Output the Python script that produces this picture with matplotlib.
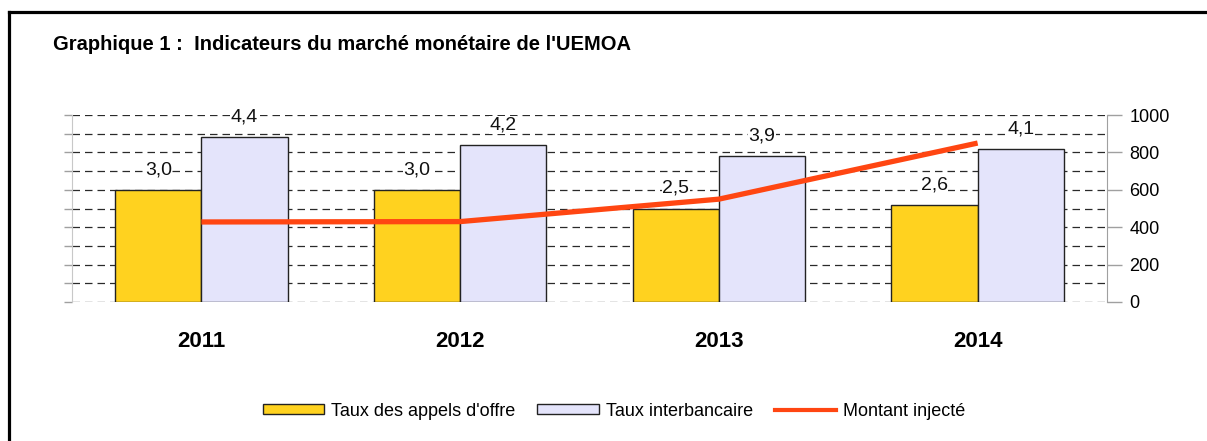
import matplotlib
matplotlib.use("Agg")
import matplotlib.pyplot as plt
import numpy as np
from matplotlib.lines import Line2D
from matplotlib.patches import Patch

plt.rcParams['font.family'] = ['Liberation Sans', 'DejaVu Sans']

years = ["2011", "2012", "2013", "2014"]
taux_appels = [3.0, 3.0, 2.5, 2.6]
taux_interbancaire = [4.4, 4.2, 3.9, 4.1]
montant_injecte = [428, 430, 550, 850]
right_ticks = [0, 200, 400, 600, 800, 1000]

title = "Graphique 1 :  Indicateurs du marché monétaire de l'UEMOA"
legend_labels = ["Taux des appels d'offre", "Taux interbancaire", "Montant injecté"]

W, H = 1207, 441
fig = plt.figure(figsize=(W / 100, H / 100), dpi=100)
fig.patch.set_facecolor("white")

L, R, B, T = 72, 1107, 302, 115
ax = fig.add_axes([L / W, 1 - B / H, (R - L) / W, (B - T) / H])

x = np.arange(len(years)) + 0.5
bw = 0.333
yellow = "#FFD21F"
lav = "#E4E4FB"
red = "#FF4612"
grey = "#A0A0A0"

b1 = ax.bar(x - bw / 2, taux_appels, bw, color=yellow, edgecolor="#222222", linewidth=1.0, zorder=2)
b2 = ax.bar(x + bw / 2, taux_interbancaire, bw, color=lav, edgecolor="#222222", linewidth=1.0, zorder=2)

for bars, vals in ((b1, taux_appels), (b2, taux_interbancaire)):
    for rect, v in zip(bars, vals):
        ax.annotate(f"{v:.1f}".replace(".", ","),
                    (rect.get_x() + rect.get_width() / 2, rect.get_height()),
                    xytext=(0, 14.5), textcoords="offset points",
                    ha="center", va="center", fontsize=14, color="#111111",
                    bbox=dict(facecolor="white", edgecolor="none", pad=0.3), zorder=3)

ax.set_xlim(0, 4)
ax.set_ylim(0, 5)
ax.set_axisbelow(True)
ax.set_yticks(np.arange(0, 5.01, 0.5))
ax.set_yticklabels([])
ax.yaxis.grid(True, linestyle=(0, (6, 4)), color="#2A2A2A", linewidth=0.9)
ax.tick_params(axis="y", length=6, color=grey, width=1)
ax.set_xticks(x)
ax.set_xticklabels(years, fontsize=16, fontweight="bold")
ax.tick_params(axis="x", length=0, pad=21)
for s in ("top", "bottom", "right"):
    ax.spines[s].set_visible(False)
ax.spines["left"].set_color("#C8C8C8")

ax2 = ax.twinx()
ax2.plot(x, montant_injecte, color=red, linewidth=3.8, solid_capstyle="butt", zorder=5)
ax2.set_ylim(0, 1000)
ax2.set_yticks(right_ticks)
ax2.set_yticklabels([str(t) for t in right_ticks], fontsize=13)
ax2.tick_params(axis="y", length=11, color=grey, width=1, pad=5)
for s in ("top", "bottom", "left"):
    ax2.spines[s].set_visible(False)
ax2.spines["right"].set_color(grey)

fig.text(53 / W, 1 - 45 / H, title, fontsize=14.5, fontweight="bold", ha="left", va="center")

handles = [Patch(facecolor=yellow, edgecolor="#222222", linewidth=1.0),
           Patch(facecolor=lav, edgecolor="#222222", linewidth=1.0),
           Line2D([], [], color=red, linewidth=3.0)]
fig.legend(handles, legend_labels, loc="center", bbox_to_anchor=(614 / W, 1 - 411 / H),
           ncol=3, frameon=False, fontsize=13, handlelength=3.4, handleheight=0.5,
           columnspacing=1.2, handletextpad=0.4, borderpad=0, borderaxespad=0)

fig.add_artist(Line2D([8.5 / W, 8.5 / W], [0, 1 - 12 / H], color="black", linewidth=2.3,
                      transform=fig.transFigure, solid_capstyle="projecting"))
fig.add_artist(Line2D([8.5 / W, 1.0], [1 - 12 / H, 1 - 12 / H], color="black", linewidth=2.3,
                      transform=fig.transFigure, solid_capstyle="projecting"))

fig.savefig("out.png", dpi=100, facecolor="white")
